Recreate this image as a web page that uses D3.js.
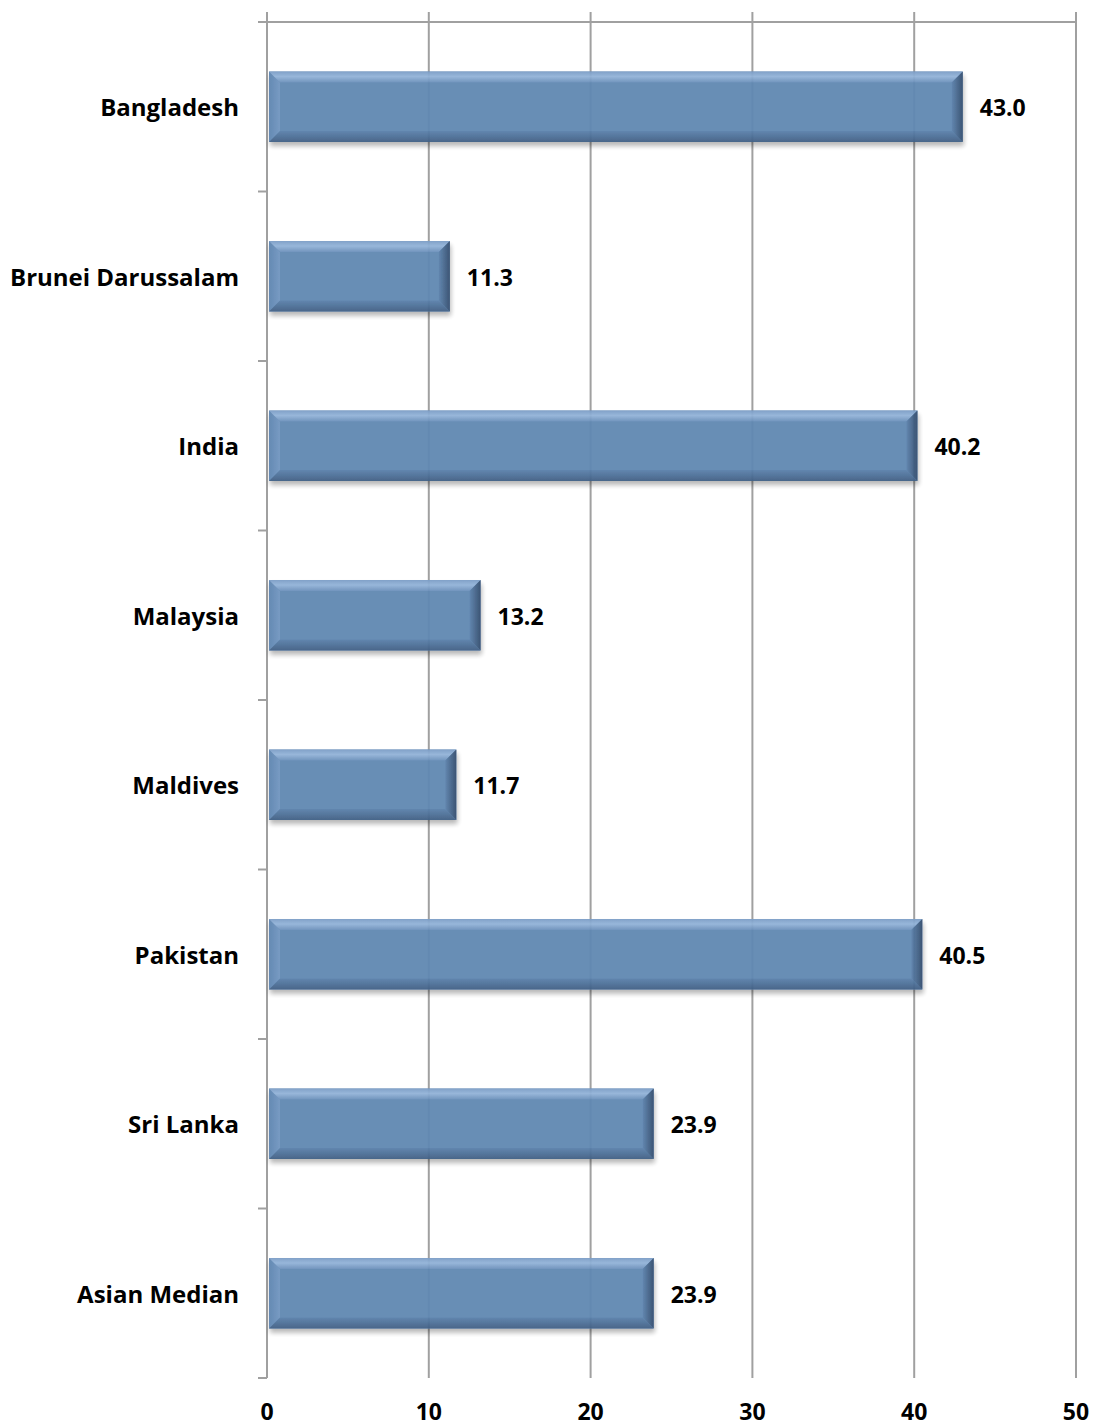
<!DOCTYPE html>
<html><head><meta charset="utf-8">
<script src="https://cdn.jsdelivr.net/npm/d3@7/dist/d3.min.js"></script>
<style>body{margin:0;background:#fff;} text{font-family:"Open Sans",Lato,sans-serif;font-weight:700;fill:#000;}</style>
</head><body>
<svg id="c" width="1095" height="1427"></svg>
<script>
const categories = ["Bangladesh","Brunei Darussalam","India","Malaysia","Maldives","Pakistan","Sri Lanka","Asian Median"];
const values = [43.0, 11.3, 40.2, 13.2, 11.7, 40.5, 23.9, 23.9];
const valueLabels = ["43.0","11.3","40.2","13.2","11.7","40.5","23.9","23.9"];
const xTicks = [0,10,20,30,40,50];

(function(){
const svg = d3.select("#c");
const pL = 267, pR = 1076, pT = 22, pB = 1378;
const x = d3.scaleLinear().domain([0,50]).range([pL,pR]);
const y = d3.scaleBand().domain(categories).range([pT,pB]).paddingInner(0.585).paddingOuter(0.2925);

const defs = svg.append("defs");
const f = defs.append("filter").attr("id","sh").attr("x","-5%").attr("y","-20%").attr("width","110%").attr("height","160%");
f.append("feGaussianBlur").attr("in","SourceAlpha").attr("stdDeviation",2.5).attr("result","b");
f.append("feOffset").attr("in","b").attr("dx",1).attr("dy",4).attr("result","o");
f.append("feComponentTransfer").attr("in","o").attr("result","o2").append("feFuncA").attr("type","linear").attr("slope",0.3);
const m = f.append("feMerge"); m.append("feMergeNode").attr("in","o2"); m.append("feMergeNode").attr("in","SourceGraphic");

function grad(id, x1,y1,x2,y2, stops){
  const g = defs.append("linearGradient").attr("id",id).attr("x1",x1).attr("y1",y1).attr("x2",x2).attr("y2",y2);
  stops.forEach(s=>g.append("stop").attr("offset",s[0]).attr("stop-color",s[1]));
}
grad("gTop",0,0,0,1,[[0,"#7b9dc6"],[0.45,"#93b3d8"],[1,"#6a8fba"]]);
grad("gBot",0,0,0,1,[[0,"#5a80ab"],[1,"#405f84"]]);
grad("gRight",0,0,1,0,[[0,"#5a80ab"],[1,"#324c6d"]]);
grad("gLeft",0,0,1,0,[[0,"#5d84b0"],[1,"#7196c0"]]);

const grid = "#a0a0a0";
svg.append("g").selectAll("line").data(xTicks).join("line")
  .attr("x1",d=>x(d)).attr("x2",d=>x(d)).attr("y1",pT-10).attr("y2",pB)
  .attr("stroke",grid).attr("stroke-width",2);
svg.append("line").attr("x1",pL).attr("x2",pR).attr("y1",pT).attr("y2",pT).attr("stroke",grid).attr("stroke-width",2);
const catTicks = categories.map(c=>y(c)-y.step()*y.paddingInner()/2).concat([pB]);
svg.append("g").selectAll("line").data(catTicks).join("line")
  .attr("x1",pL-9).attr("x2",pL).attr("y1",d=>d).attr("y2",d=>d).attr("stroke",grid).attr("stroke-width",2);

const bw = 11;
const bars = svg.append("g").selectAll("g").data(categories).join("g").attr("filter","url(#sh)").attr("opacity",0.95);
bars.each(function(c,i){
  const g = d3.select(this);
  const x0 = x(0)+2, x1 = x(values[i]), y0 = y(c), h = y.bandwidth(), y1 = y0+h;
  g.append("rect").attr("x",x0).attr("y",y0).attr("width",x1-x0).attr("height",h).attr("fill","#6088b2");
  const poly = (pts,fill)=>g.append("polygon").attr("points",pts.map(p=>p.join(",")).join(" ")).attr("fill",fill);
  poly([[x0,y0],[x0,y1],[x0+bw,y1-bw],[x0+bw,y0+bw]],"url(#gLeft)");
  poly([[x0,y0],[x1,y0],[x1-bw,y0+bw],[x0+bw,y0+bw]],"url(#gTop)");
  poly([[x0,y1],[x1,y1],[x1-bw,y1-bw],[x0+bw,y1-bw]],"url(#gBot)");
  poly([[x1,y0],[x1,y1],[x1-bw,y1-bw],[x1-bw,y0+bw]],"url(#gRight)");
});

svg.append("g").selectAll("text").data(categories).join("text")
  .attr("x",(c,i)=>x(values[i])+17).attr("y",c=>y(c)+y.bandwidth()/2+1).attr("dy","0.36em")
  .attr("font-size",23).text((c,i)=>valueLabels[i]);

svg.append("g").selectAll("text").data(categories).join("text")
  .attr("x",pL-28).attr("y",c=>y(c)+y.bandwidth()/2+1).attr("dy","0.36em").attr("text-anchor","end")
  .attr("font-size",24).text(c=>c);

svg.append("g").selectAll("text").data(xTicks).join("text")
  .attr("x",d=>x(d)).attr("y",1420).attr("text-anchor","middle").attr("font-size",23).text(d=>d);
})();
</script>
</body></html>
